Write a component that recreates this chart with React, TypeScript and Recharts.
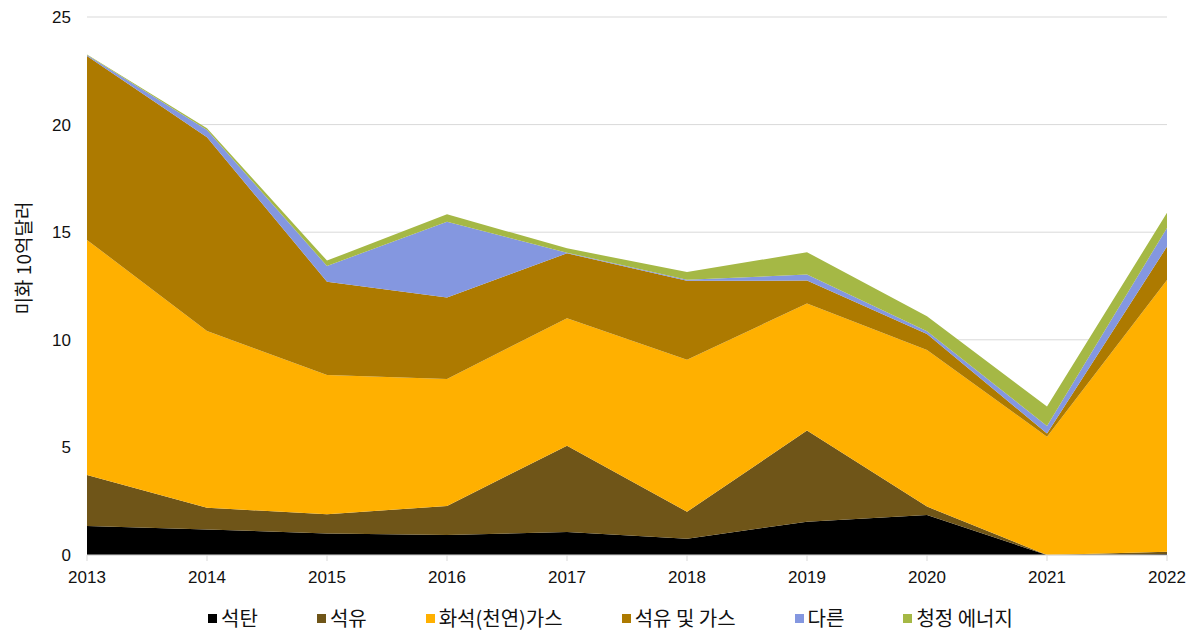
import { AreaChart, Area, XAxis, YAxis, CartesianGrid } from 'recharts'

// ─── Data ─────────────────────────────────────────────────────────────────────

const YEARS = ['2013', '2014', '2015', '2016', '2017', '2018', '2019', '2020', '2021', '2022']

const COAL      = [1.35, 1.19, 1.0, 0.93, 1.07, 0.75, 1.55, 1.86, 0.0, 0.05]
const OIL       = [2.37, 1.01, 0.89, 1.35, 4.01, 1.26, 4.23, 0.39, 0.0, 0.1]
const GAS       = [10.92, 8.21, 6.47, 5.9, 5.92, 7.06, 5.91, 7.28, 5.5, 12.63]
const OIL_GAS   = [8.55, 9.0, 4.34, 3.78, 3.02, 3.67, 1.06, 0.74, 0.15, 1.55]
const OTHER     = [0.05, 0.34, 0.73, 3.53, 0.03, 0.05, 0.28, 0.13, 0.35, 0.87]
const CLEAN     = [0.02, 0.08, 0.25, 0.34, 0.2, 0.36, 1.04, 0.7, 0.9, 0.7]

const Y_TICKS = [0, 5, 10, 15, 20, 25]

const SERIES = [
  { key: 'coal',   name: '석탄',          color: '#000000', values: COAL },
  { key: 'oil',    name: '석유',          color: '#6f5518', values: OIL },
  { key: 'gas',    name: '화석(천연)가스', color: '#ffb000', values: GAS },
  { key: 'oilgas', name: '석유 및 가스',   color: '#ad7a00', values: OIL_GAS },
  { key: 'other',  name: '다른',          color: '#8497e0', values: OTHER },
  { key: 'clean',  name: '청정 에너지',    color: '#a5b845', values: CLEAN },
]

const data = YEARS.map((year, i) => {
  const row: Record<string, string | number> = { year }
  SERIES.forEach((s) => { row[s.key] = s.values[i] })
  return row
})

const FONT = '"Liberation Sans", Arial, Helvetica, sans-serif'
const KFONT = '"Noto Sans CJK KR", "Noto Sans", sans-serif'

// ─── Component ────────────────────────────────────────────────────────────────

export default function App() {
  return (
    <div style={{ position: 'absolute', left: 0, top: 0, width: 1195, height: 631, background: '#fff' }}>
      <AreaChart
        width={1195}
        height={600}
        data={data}
        margin={{ top: 17, right: 28, left: 0, bottom: 0 }}
      >
        <CartesianGrid vertical={false} stroke="#d9d9d9" />
        <XAxis
          dataKey="year"
          height={45}
          axisLine={{ stroke: '#d9d9d9' }}
          tickLine={{ stroke: '#d9d9d9' }}
          tickSize={6}
          tickMargin={10}
          interval={0}
          tick={{ fill: '#111', fontSize: 17, fontFamily: FONT }}
        />
        <YAxis
          width={87}
          domain={[0, 25]}
          ticks={Y_TICKS}
          axisLine={false}
          tickLine={false}
          tickSize={0}
          tickMargin={16}
          tick={{ fill: '#111', fontSize: 17, fontFamily: FONT }}
          label={{
            content: () => (
              <text
                x={22}
                y={258}
                transform="rotate(-90 22 258)"
                textAnchor="middle"
                dominantBaseline="central"
                fill="#111"
                fontSize={19}
                fontFamily={KFONT}
              >
                미화 10억달러
              </text>
            ),
          }}
        />
        {SERIES.map((s) => (
          <Area
            key={s.key}
            type="linear"
            dataKey={s.key}
            name={s.name}
            stackId="1"
            fill={s.color}
            fillOpacity={1}
            stroke="none"
            isAnimationActive={false}
          />
        ))}
      </AreaChart>

      {/* Legend */}
      <div
        style={{
          position: 'absolute',
          left: 0,
          top: 605,
          width: 1195,
          display: 'flex',
          justifyContent: 'center',
          gap: 59,
          paddingLeft: 26,
          boxSizing: 'border-box',
          fontFamily: KFONT,
          fontSize: 20,
          lineHeight: '26px',
          color: '#111',
        }}
      >
        {SERIES.map((s) => (
          <div key={s.key} style={{ display: 'flex', alignItems: 'center', gap: 4 }}>
            <span style={{ width: 9, height: 9, background: s.color, display: 'inline-block' }} />
            <span>{s.name}</span>
          </div>
        ))}
      </div>
    </div>
  )
}
